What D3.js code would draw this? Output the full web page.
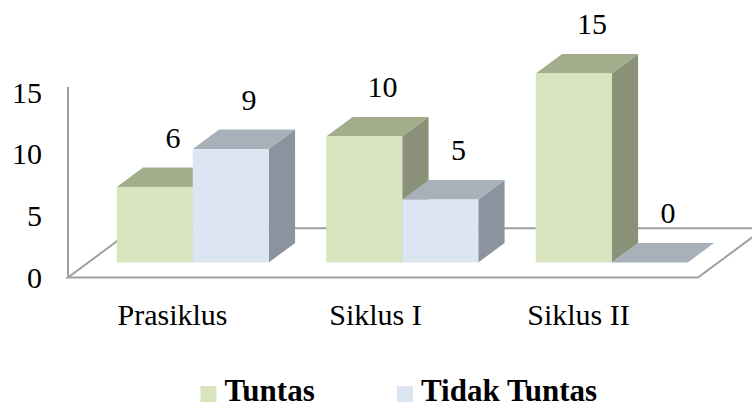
<!DOCTYPE html>
<html><head><meta charset="utf-8">
<script src="https://cdn.jsdelivr.net/npm/d3@7"></script>
<style>html,body{margin:0;padding:0;background:#fff}svg{display:block}</style>
</head><body>
<svg id="chart" width="752" height="408"></svg>
<script>
const categories = ["Prasiklus", "Siklus I", "Siklus II"];
const seriesNames = ["Tuntas", "Tidak Tuntas"];
const tuntas = [6, 10, 15];
const tidakTuntas = [9, 5, 0];
const yTicks = [0, 5, 10, 15];

const frontColors = ["#d7e4bd", "#dce6f2"];
const topColors = ["#a2ad8c", "#a8b1ba"];
const sideColors = ["#8a9178", "#8b949e"];
const font = "'Liberation Serif','Times New Roman',serif";

const svg = d3.select("#chart");
const ratio = 1.35;               // x shift per y of depth
const floorFrontY = 277.5, floorBackY = 228.3, axisX = 68;
const floorDy = floorFrontY - floorBackY, floorDx = floorDy * ratio;
const barFrontDy = 15, barDepthDy = 19.5;
const barBaseY = floorFrontY - barFrontDy;
const bdx = barDepthDy * ratio, bdy = barDepthDy;

const yAxis = d3.scaleLinear().domain([0, 15]).range([floorFrontY, 92]);
const yBar = d3.scaleLinear().domain([0, 15]).range([0, 189]);
const x0 = d3.scaleBand().domain(categories)
  .range([axisX + barFrontDy * ratio, axisX + barFrontDy * ratio + 628.5]);
const x1 = d3.scaleBand().domain(seriesNames).range([28.5, 28.5 + 152]);
const xLabel = d3.scaleBand().domain(categories).range([71, 680]);

// floor
const floorRightX = 698;
svg.append("path")
  .attr("d", `M${axisX},${floorFrontY} L${floorRightX},${floorFrontY} L${floorRightX + floorDx},${floorBackY} L${axisX + floorDx},${floorBackY} Z`)
  .attr("fill", "#fff").attr("stroke", "#a0a0a0").attr("stroke-width", 2);
// vertical axis line
svg.append("line").attr("x1", axisX).attr("x2", axisX)
  .attr("y1", 87).attr("y2", floorFrontY)
  .attr("stroke", "#a0a0a0").attr("stroke-width", 2);

// y tick labels
svg.append("g").selectAll("text").data(yTicks).join("text")
  .attr("x", 42).attr("y", d => yAxis(d) + 10.5)
  .attr("text-anchor", "end")
  .attr("font-family", font).attr("font-size", 30).attr("fill", "#000")
  .text(d => d);

// bars
const data = [];
categories.forEach((c, i) => {
  data.push({cat: c, s: 0, v: tuntas[i]});
  data.push({cat: c, s: 1, v: tidakTuntas[i]});
});
const bars = svg.append("g");
data.forEach(d => {
  const xl = x0(d.cat) + x1(seriesNames[d.s]);
  const w = x1.bandwidth();
  const h = yBar(d.v);
  const yt = barBaseY - h;
  const g = bars.append("g");
  if (h > 0) {
    g.append("path")
      .attr("d", `M${xl + w},${yt} L${xl + w + bdx},${yt - bdy} L${xl + w + bdx},${barBaseY - bdy} L${xl + w},${barBaseY} Z`)
      .attr("fill", sideColors[d.s]);
  }
  g.append("path")
    .attr("d", `M${xl},${yt} L${xl + bdx},${yt - bdy} L${xl + w + bdx},${yt - bdy} L${xl + w},${yt} Z`)
    .attr("fill", topColors[d.s]);
  if (h > 0) {
    g.append("rect").attr("x", xl).attr("y", yt).attr("width", w).attr("height", h)
      .attr("fill", frontColors[d.s]);
  }
  svg.append("text")
    .attr("x", xl + w / 2 + bdx / 2 + 5)
    .attr("y", yt - bdy / 2 - 40 + 10.5)
    .attr("text-anchor", "middle")
    .attr("font-family", font).attr("font-size", 30).attr("fill", "#000")
    .text(d.v);
});

// category labels
svg.append("g").selectAll("text").data(categories).join("text")
  .attr("x", d => xLabel(d) + xLabel.bandwidth() / 2)
  .attr("y", 325)
  .attr("text-anchor", "middle")
  .attr("font-family", font).attr("font-size", 30).attr("fill", "#000")
  .text(d => d);

// legend
const legendX = [200.5, 397];
seriesNames.forEach((s, i) => {
  svg.append("rect").attr("x", legendX[i]).attr("y", 386).attr("width", 16).attr("height", 16)
    .attr("fill", frontColors[i]);
  svg.append("text").attr("x", legendX[i] + 24).attr("y", 401)
    .attr("font-family", font).attr("font-size", 31).attr("font-weight", "bold").attr("fill", "#000")
    .text(s);
});
</script>
</body></html>
